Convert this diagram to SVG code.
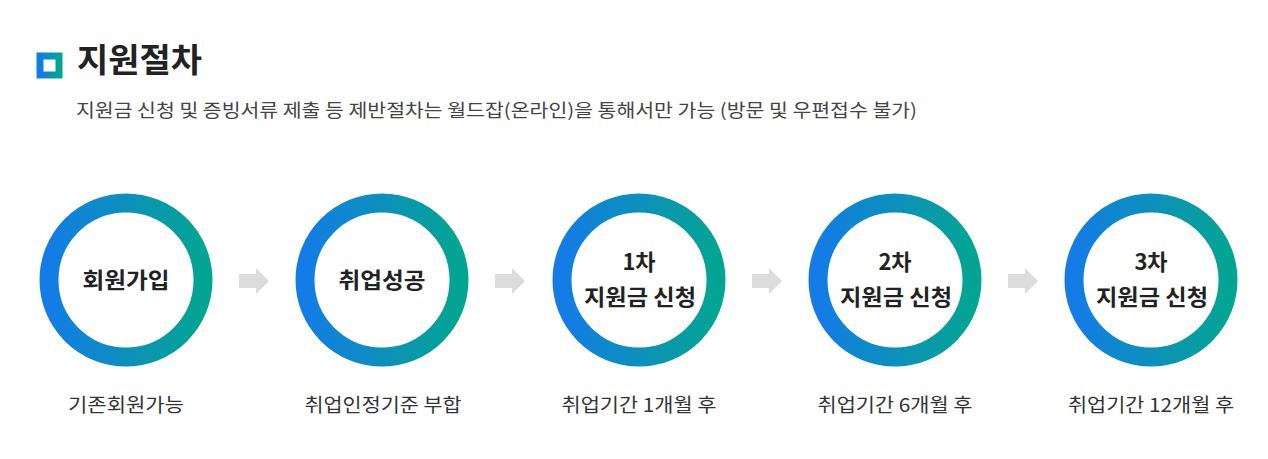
<svg xmlns="http://www.w3.org/2000/svg" width="1268" height="459" viewBox="0 0 1268 459">
<defs>
<linearGradient id="g" x1="0" y1="0" x2="1" y2="0">
<stop offset="0" stop-color="#137ce6"/>
<stop offset="1" stop-color="#03a592"/>
</linearGradient>
<style>
.t{font-family:"Noto Sans CJK KR","Noto Sans",sans-serif;}
.ring{fill:#fff;stroke:url(#g);stroke-width:19;}
.lbl{font-family:"Noto Sans CJK KR","Noto Sans",sans-serif;font-size:22px;font-weight:bold;fill:#222;text-anchor:middle;}
.cap{font-family:"Noto Sans CJK KR","Noto Sans",sans-serif;font-size:19px;fill:#333;text-anchor:middle;}
.arr{fill:#dcdcdc;}
</style>
</defs>
<rect width="1268" height="459" fill="#fff"/>
<g id="title">
<rect x="40" y="56" width="19" height="19" fill="#fff" stroke="url(#g)" stroke-width="7"/>
<text x="77" y="72" class="t" font-size="33" font-weight="bold" fill="#222" textLength="125" lengthAdjust="spacingAndGlyphs">지원절차</text>
<text x="76" y="117" class="t" font-size="18" fill="#444" textLength="841" lengthAdjust="spacingAndGlyphs">지원금 신청 및 증빙서류 제출 등 제반절차는 월드잡(온라인)을 통해서만 가능 (방문 및 우편접수 불가)</text>
</g>
<g id="connectors">
<path class="arr" d="M239 274H256V268L269 281L256 294V288H239Z"/>
<path class="arr" d="M495 274H512V268L525 281L512 294V288H495Z"/>
<path class="arr" d="M752 274H769V268L782 281L769 294V288H752Z"/>
<path class="arr" d="M1008 274H1025V268L1038 281L1025 294V288H1008Z"/>
</g>
<g id="step1">
<circle class="ring" cx="126" cy="280" r="77"/>
<text class="lbl" x="126" y="288" textLength="87" lengthAdjust="spacingAndGlyphs">회원가입</text>
<text class="cap" x="126" y="412" textLength="116" lengthAdjust="spacingAndGlyphs">기존회원가능</text>
</g>
<g id="step2">
<circle class="ring" cx="382" cy="280" r="77"/>
<text class="lbl" x="382" y="288" textLength="87" lengthAdjust="spacingAndGlyphs">취업성공</text>
<text class="cap" x="383" y="412" textLength="157" lengthAdjust="spacingAndGlyphs">취업인정기준 부합</text>
</g>
<g id="step3">
<circle class="ring" cx="639" cy="280" r="77"/>
<text class="lbl" x="639" y="270">1차</text>
<text class="lbl" x="640" y="305" textLength="112" lengthAdjust="spacingAndGlyphs">지원금 신청</text>
<text class="cap" x="639" y="412" textLength="155" lengthAdjust="spacingAndGlyphs">취업기간 1개월 후</text>
</g>
<g id="step4">
<circle class="ring" cx="895" cy="280" r="77"/>
<text class="lbl" x="895" y="270">2차</text>
<text class="lbl" x="896" y="305" textLength="112" lengthAdjust="spacingAndGlyphs">지원금 신청</text>
<text class="cap" x="895" y="412" textLength="155" lengthAdjust="spacingAndGlyphs">취업기간 6개월 후</text>
</g>
<g id="step5">
<circle class="ring" cx="1151" cy="280" r="77"/>
<text class="lbl" x="1151" y="270">3차</text>
<text class="lbl" x="1152" y="305" textLength="112" lengthAdjust="spacingAndGlyphs">지원금 신청</text>
<text class="cap" x="1151" y="412" textLength="166" lengthAdjust="spacingAndGlyphs">취업기간 12개월 후</text>
</g>
</svg>
